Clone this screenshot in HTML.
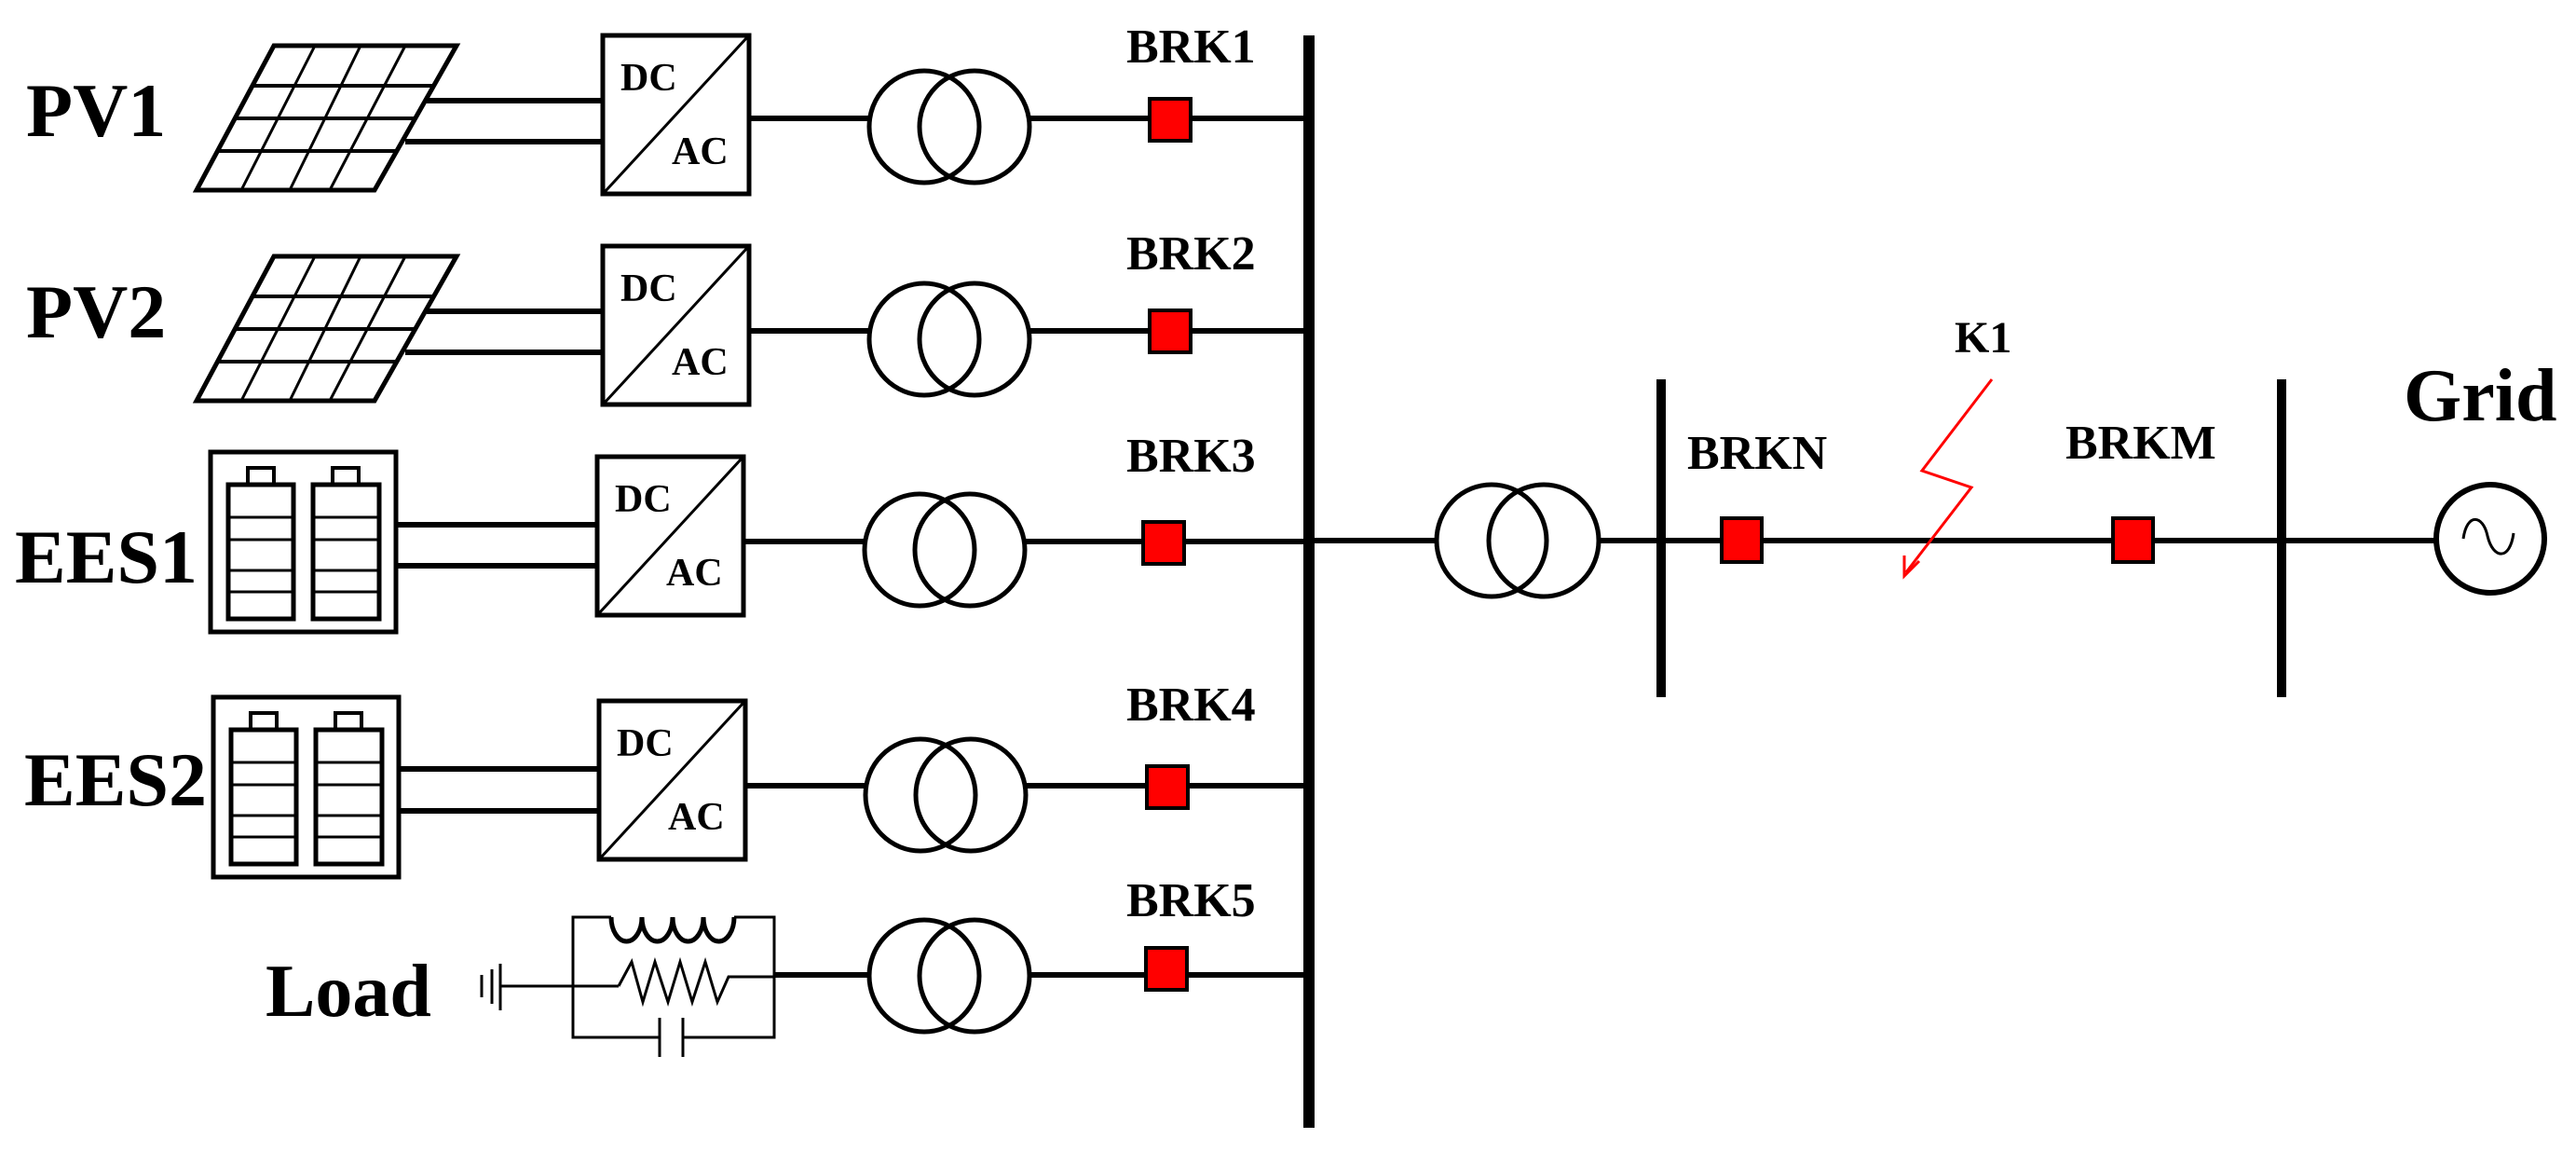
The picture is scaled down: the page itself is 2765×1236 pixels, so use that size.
<!DOCTYPE html>
<html><head><meta charset="utf-8"><style>
html,body{margin:0;padding:0;background:#fff;}
svg{display:block;}
text{font-family:"Liberation Serif",serif;font-weight:bold;fill:#000;}
</style></head><body>
<svg width="2765" height="1236" viewBox="0 0 2765 1236" xmlns="http://www.w3.org/2000/svg">
<defs>
 <g id="pv" fill="none" stroke="#000">
  <polygon points="294,49 490,49 402,204 211,204" stroke-width="5"/>
  <line x1="272" y1="92" x2="466" y2="92" stroke-width="4"/>
  <line x1="252" y1="127" x2="446" y2="127" stroke-width="4"/>
  <line x1="232" y1="162" x2="426" y2="162" stroke-width="4"/>
  <line x1="338" y1="49" x2="259" y2="204" stroke-width="3"/>
  <line x1="387" y1="49" x2="311" y2="204" stroke-width="3"/>
  <line x1="435" y1="49" x2="354" y2="204" stroke-width="3"/>
 </g>
 <g id="conv">
  <rect x="647" y="38" width="157" height="170" fill="#fff" stroke="#000" stroke-width="5"/>
  <line x1="649" y1="206" x2="802" y2="40" stroke="#000" stroke-width="3"/>
  <text x="666" y="97" font-size="42">DC</text>
  <text x="721" y="176" font-size="42">AC</text>
 </g>
 <g id="tr" fill="none" stroke="#000" stroke-width="5">
  <ellipse cx="992" cy="0" rx="59" ry="60"/>
  <ellipse cx="1046" cy="0" rx="59" ry="60"/>
 </g>
 <g id="bat" fill="none" stroke="#000">
  <rect x="226" y="485" width="199" height="193" stroke-width="5"/>
  <rect x="245" y="520" width="70" height="144" stroke-width="5"/>
  <rect x="336" y="520" width="71" height="144" stroke-width="5"/>
  <rect x="266" y="502" width="28" height="18" stroke-width="4"/>
  <rect x="357" y="502" width="28" height="18" stroke-width="4"/>
  <g stroke-width="3">
   <line x1="245" y1="555" x2="315" y2="555"/><line x1="245" y1="579" x2="315" y2="579"/>
   <line x1="245" y1="612" x2="315" y2="612"/><line x1="245" y1="635" x2="315" y2="635"/>
   <line x1="336" y1="555" x2="407" y2="555"/><line x1="336" y1="579" x2="407" y2="579"/>
   <line x1="336" y1="612" x2="407" y2="612"/><line x1="336" y1="635" x2="407" y2="635"/>
  </g>
 </g>
</defs>

<!-- main bus -->
<rect x="1399" y="38" width="12" height="1172" fill="#000"/>

<!-- Row 1 PV1 -->
<text x="28" y="146" font-size="82">PV1</text>
<use href="#pv"/>
<line x1="458" y1="108" x2="647" y2="108" stroke="#000" stroke-width="6"/>
<line x1="435" y1="152" x2="647" y2="152" stroke="#000" stroke-width="6"/>
<use href="#conv"/>
<line x1="804" y1="127" x2="933" y2="127" stroke="#000" stroke-width="6"/>
<use href="#tr" transform="translate(0,136)"/>
<line x1="1105" y1="127" x2="1405" y2="127" stroke="#000" stroke-width="6"/>
<rect x="1234" y="106" width="44" height="45" fill="#f00" stroke="#000" stroke-width="4"/>
<text x="1209" y="67" font-size="52">BRK1</text>

<!-- Row 2 PV2 -->
<text x="28" y="362" font-size="82">PV2</text>
<use href="#pv" transform="translate(0,226)"/>
<line x1="458" y1="334" x2="647" y2="334" stroke="#000" stroke-width="6"/>
<line x1="435" y1="378" x2="647" y2="378" stroke="#000" stroke-width="6"/>
<use href="#conv" transform="translate(0,226)"/>
<line x1="804" y1="355" x2="933" y2="355" stroke="#000" stroke-width="6"/>
<use href="#tr" transform="translate(0,364)"/>
<line x1="1105" y1="355" x2="1405" y2="355" stroke="#000" stroke-width="6"/>
<rect x="1234" y="333" width="44" height="45" fill="#f00" stroke="#000" stroke-width="4"/>
<text x="1209" y="289" font-size="52">BRK2</text>

<!-- Row 3 EES1 -->
<text x="16" y="625" font-size="82">EES1</text>
<use href="#bat"/>
<line x1="425" y1="563" x2="641" y2="563" stroke="#000" stroke-width="6"/>
<line x1="425" y1="607" x2="641" y2="607" stroke="#000" stroke-width="6"/>
<use href="#conv" transform="translate(-6,452)"/>
<line x1="798" y1="581" x2="928" y2="581" stroke="#000" stroke-width="6"/>
<g transform="translate(-5,0)"><use href="#tr" transform="translate(0,590)"/></g>
<line x1="1100" y1="581" x2="1405" y2="581" stroke="#000" stroke-width="6"/>
<rect x="1227" y="560" width="44" height="45" fill="#f00" stroke="#000" stroke-width="4"/>
<text x="1209" y="506" font-size="52">BRK3</text>

<!-- Row 4 EES2 -->
<text x="26" y="864" font-size="82">EES2</text>
<use href="#bat" transform="translate(3,263)"/>
<line x1="428" y1="825" x2="643" y2="825" stroke="#000" stroke-width="6"/>
<line x1="428" y1="870" x2="643" y2="870" stroke="#000" stroke-width="6"/>
<use href="#conv" transform="translate(-4,714)"/>
<line x1="800" y1="843" x2="930" y2="843" stroke="#000" stroke-width="6"/>
<g transform="translate(-4,0)"><use href="#tr" transform="translate(0,853)"/></g>
<line x1="1100" y1="843" x2="1405" y2="843" stroke="#000" stroke-width="6"/>
<rect x="1231" y="822" width="44" height="45" fill="#f00" stroke="#000" stroke-width="4"/>
<text x="1209" y="773" font-size="52">BRK4</text>

<!-- Row 5 Load -->
<text x="285" y="1090" font-size="80">Load</text>
<g fill="none" stroke="#000" stroke-width="3">
 <line x1="517" y1="1046" x2="517" y2="1070"/>
 <line x1="528" y1="1040" x2="528" y2="1077"/>
 <line x1="537" y1="1034" x2="537" y2="1084"/>
 <line x1="537" y1="1058" x2="664" y2="1058"/>
 <polyline points="664,1058 678,1032 690,1075 703,1032 717,1075 730,1032 743,1075 757,1032 770,1075 782,1048 831,1048"/>
 <polyline points="656,984 615,984 615,1113 708,1113"/>
 <polyline points="733,1113 831,1113 831,984 788,984"/>
 <line x1="708" y1="1092" x2="708" y2="1134"/>
 <line x1="733" y1="1092" x2="733" y2="1134"/>
 <path d="M656,984 a16.5,26 0 0 0 33,0 a16.5,26 0 0 0 33,0 a16.5,26 0 0 0 33,0 a16.5,26 0 0 0 33,0" stroke-width="5"/>
</g>
<line x1="831" y1="1046" x2="933" y2="1046" stroke="#000" stroke-width="6"/>
<use href="#tr" transform="translate(0,1047)"/>
<line x1="1105" y1="1046" x2="1405" y2="1046" stroke="#000" stroke-width="6"/>
<rect x="1230" y="1017" width="44" height="45" fill="#f00" stroke="#000" stroke-width="4"/>
<text x="1209" y="983" font-size="52">BRK5</text>

<!-- right side -->
<line x1="1405" y1="580" x2="1542" y2="580" stroke="#000" stroke-width="6"/>
<g fill="none" stroke="#000" stroke-width="5">
 <ellipse cx="1601" cy="580" rx="59" ry="60"/>
 <ellipse cx="1657" cy="580" rx="59" ry="60"/>
</g>
<line x1="1716" y1="580" x2="2613" y2="580" stroke="#000" stroke-width="6"/>
<rect x="1778" y="407" width="10" height="341" fill="#000"/>
<rect x="2444" y="407" width="10" height="341" fill="#000"/>
<rect x="1848" y="556" width="43" height="47" fill="#f00" stroke="#000" stroke-width="4"/>
<rect x="2268" y="556" width="43" height="47" fill="#f00" stroke="#000" stroke-width="4"/>
<text x="1811" y="503" font-size="52">BRKN</text>
<text x="2217" y="492" font-size="52">BRKM</text>
<text x="2098" y="378" font-size="48">K1</text>
<text x="2580" y="451" font-size="80">Grid</text>
<polyline points="2138,407 2063,505 2116,523 2046,614" fill="none" stroke="#f00" stroke-width="3"/>
<polyline points="2044,596 2044,618 2060,602" fill="none" stroke="#f00" stroke-width="3"/>
<circle cx="2673" cy="578" r="58" fill="#fff" stroke="#000" stroke-width="6"/>
<path d="M2644,578 C2648,550 2665,552 2670,575 C2676,600 2694,602 2698,572" fill="none" stroke="#000" stroke-width="3"/>
</svg>
</body></html>
